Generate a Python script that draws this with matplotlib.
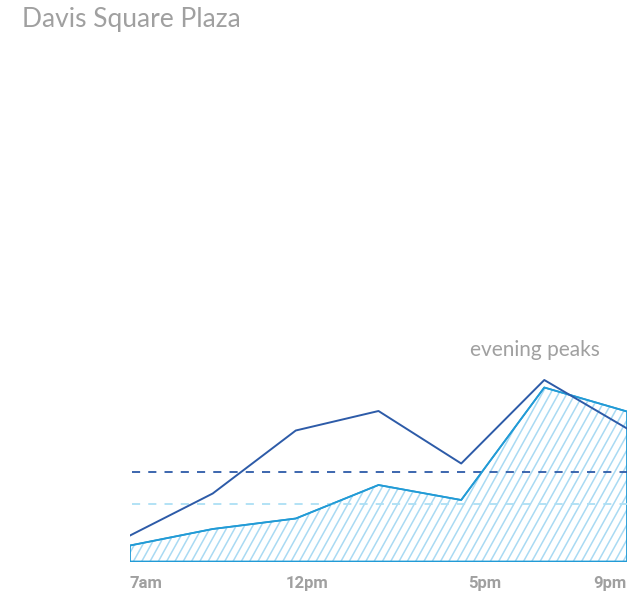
import numpy as np
import matplotlib
matplotlib.use("Agg")
import matplotlib.pyplot as plt
from matplotlib.collections import LineCollection
from matplotlib.transforms import IdentityTransform

# ---- data ----
hours = [7, 9.33, 11.67, 14, 16.33, 18.67, 21]
dark_series = [26, 68, 131, 150.5, 98, 181.5, 133]
light_series = [16, 32.5, 43, 76.5, 61.5, 174, 150]
dark_ref = 89.5
light_ref = 57.5
tick_hours = [7, 12, 17, 21]
tick_labels = ["7am", "12pm", "5pm", "9pm"]
title = "Davis Square Plaza"
note = "evening peaks"

W, H, DPI = 634, 596, 100
fig = plt.figure(figsize=(W / DPI, H / DPI), dpi=DPI)
ax = fig.add_axes([130 / W, 34.5 / H, 497 / W, 200 / H])
ax.set_xlim(7, 21)
ax.set_ylim(0, 200)
for s in ax.spines.values():
    s.set_visible(False)
ax.set_yticks([])

DARK = "#2d5ba8"
LIGHT = "#229bd6"
HATCH = "#a9daf3"
DASH_LIGHT = "#addff5"
GRAY = "#a0a0a0"
FONT = ["Lato", "DejaVu Sans"]

# filled area outline
poly = ax.fill_between(hours, 0, light_series, facecolor="none",
                       edgecolor=LIGHT, linewidth=1.3, zorder=3)

# custom steep hatching clipped to area
fig.canvas.draw()
x0, y0 = ax.transData.transform((7, 0))
x1, y1 = ax.transData.transform((21, 200))
spacing = 8.3
slope = 1.8
segs = []
xs = x0 - (y1 - y0) / slope - 10
while xs < x1 + 10:
    segs.append([(xs, y0), (xs + (y1 - y0) / slope, y1)])
    xs += spacing
lc = LineCollection(segs, colors=HATCH, linewidths=1.1,
                    transform=IdentityTransform(), zorder=2)
ax.add_collection(lc)
lc.set_clip_path(poly.get_paths()[0], ax.transData)

# reference dashed lines
ax.plot([7.06, 21], [dark_ref, dark_ref], color=DARK, lw=1.3,
        dashes=(4.5, 4.5), zorder=4)
ax.plot([7.06, 21], [light_ref, light_ref], color=DASH_LIGHT, lw=1.3,
        dashes=(4.5, 4.5), zorder=4)

# lines
ax.plot(hours, light_series, color=LIGHT, lw=1.2, zorder=5)
ax.plot(hours, dark_series, color=DARK, lw=1.4, zorder=6)

# ticks
ax.set_xticks(tick_hours)
ax.set_xticklabels(tick_labels, fontsize=12, fontweight="bold", color=GRAY,
                   family=["Roboto", "DejaVu Sans"])
ax.tick_params(axis="x", length=0, pad=10.5)
labs = ax.get_xticklabels()
labs[0].set_ha("left")
labs[-1].set_ha("right")

fig.text(22 / W, 1 - 27 / H, title, fontsize=19, color=GRAY,
         fontweight="normal", family=FONT, va="baseline", ha="left")
fig.text(600 / W, 1 - 356 / H, note, fontsize=15, color=GRAY,
         fontweight="normal", family=FONT, va="baseline", ha="right")

fig.savefig("out.png", dpi=DPI)
